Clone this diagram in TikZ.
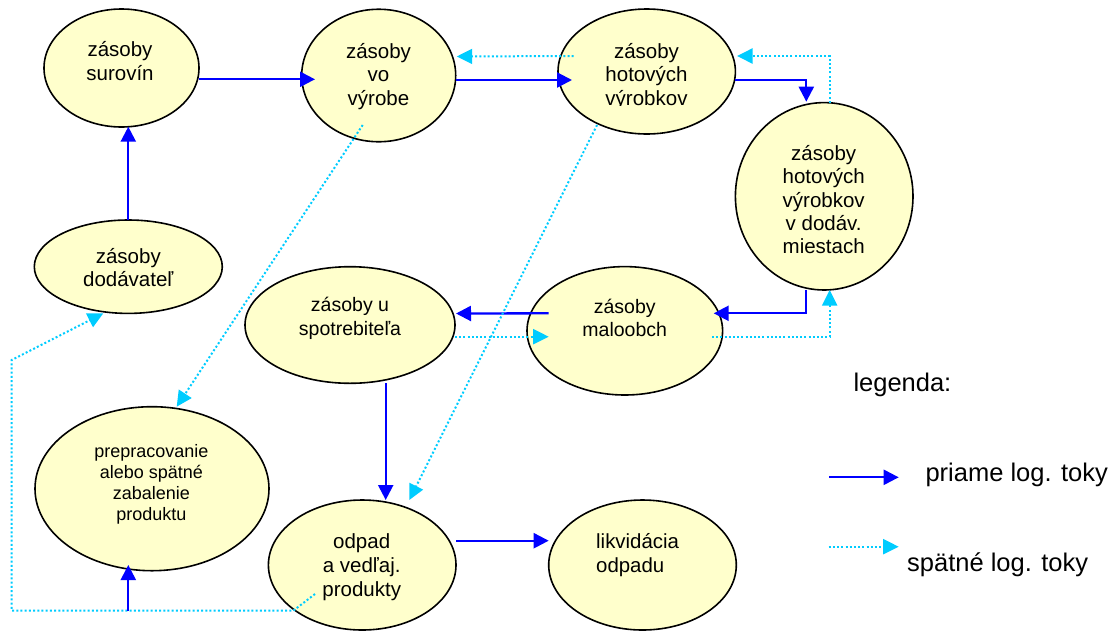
\documentclass[tikz,border=0pt]{standalone}
\usepackage{fontspec}
\setmainfont{Liberation Sans}
\usetikzlibrary{shapes.geometric,arrows.meta,calc}
\definecolor{fillY}{HTML}{FFFFCC}
\definecolor{flowB}{HTML}{0000FF}
\definecolor{flowC}{HTML}{00CCFF}
\newcommand\ts{\rule{0pt}{22pt}}
\newcommand\fixskip{\lineskiplimit -50pt\relax}
\newcommand\fsz[2]{\fontsize{#1}{#2}\selectfont\fixskip}
\begin{document}
\begin{tikzpicture}[x=1pt,y=-1pt,
  stock/.style={ellipse, draw=black, line width=1.6pt, fill=fillY, inner sep=0pt},
  lbl/.style={inner sep=0pt, align=center, anchor=north, font={\fsz{20.5}{23.4}}},
  legtxt/.style={inner sep=0pt, anchor=base west, font={\fsz{25.5}{30}}},
  fwd/.style={draw=flowB, line width=2.3pt, -{Triangle[length=15pt,width=15pt]}},
  bwd/.style={draw=flowC, line width=2pt, dash pattern=on 2pt off 2.2pt,
              -{Triangle[length=15.5pt,width=15pt]}},
]
\useasboundingbox (0,0) rectangle (1118,630);

% ellipses
\node[stock, minimum width=155pt,   minimum height=118pt]   (sur) at (121.5,68)    {};
\node[stock, minimum width=154pt,   minimum height=132.5pt] (vyr) at (378.7,75.5)  {};
\node[stock, minimum width=177.4pt, minimum height=125pt]   (hot) at (646.7,71.5)  {};
\node[stock, minimum width=177.6pt, minimum height=187.4pt] (dod) at (824.2,196.3) {};
\node[stock, minimum width=188pt,   minimum height=93.4pt]  (dov) at (128.3,266.7) {};
\node[stock, minimum width=210pt,   minimum height=116.6pt] (spo) at (350,325)     {};
\node[stock, minimum width=195.6pt, minimum height=128.4pt] (mal) at (624.8,330.8) {};
\node[stock, minimum width=234pt,   minimum height=164pt]   (pre) at (152,488.7)   {};
\node[stock, minimum width=187.6pt, minimum height=130pt]   (odp) at (362.2,565)   {};
\node[stock, minimum width=187.6pt, minimum height=130pt]   (lik) at (642.5,565)   {};

% texts
\node[lbl] (tsur) at (120,34.7)   {\ts zásoby\\surovín};
\node[lbl] (tvyr) at (378.5,36.3) {\ts zásoby\\vo\\výrobe};
\begin{scope}
  \clip (550,0) rectangle (745,105);
  \node[lbl] (thot) at (646.5,36.3) {\ts zásoby\\hotových\\výrobkov};
\end{scope}
\begin{scope}
  \clip (740,100) rectangle (910,254);
  \node[lbl] (tdod) at (823.7,138) {\ts zásoby\\hotových\\výrobkov\\v dodáv.\\miestach};
\end{scope}
\node[lbl] (tdov) at (128.3,241.3) {\ts zásoby\\dodávateľ};
\node[lbl, font={\fsz{19.5}{23.3}}] (tspo) at (350,289.7) {\ts zásoby u\\spotrebiteľa};
\node[lbl, font={\fsz{19.5}{22.7}}] (tmal) at (624.7,291.3) {\ts zásoby\\maloobch};
\node[lbl, font={\fsz{18}{20.9}}] (tpre) at (151.3,435.3) {\ts prepracovanie\\alebo spätné\\zabalenie\\produktu};
\node[lbl, font={\fsz{20.5}{24}}] (todp) at (361.7,526.3) {\ts odpad\\a vedľaj.\\produkty};
\node[lbl, anchor=north west, align=left, font={\fsz{20.4}{24.4}}] (tlik) at (596,526.3) {\ts likvidácia\\odpadu};

% forward flows
\draw[fwd] ($(sur)+(77.5,11.3)$) -- ($(vyr)+(-63.7,3.8)$);
\draw[fwd] ($(vyr)+(77,4.5)$) -- ($(hot)+(-74.7,8.5)$);
\draw[fwd] ($(hot)+(88.7,8.5)$) -| ($(dod)+(-17.9,-94.6)$);
\draw[fwd] ($(dod)+(-17.9,93.7)$) |- ($(mal)+(88.9,-17.5)$);
\draw[fwd] ($(mal)+(-76.1,-17.5)$) -- ($(spo)+(106,-11.5)$);
\draw[fwd] ($(spo)+(35.7,58.3)$) -- ($(odp)+(23.5,-65)$);
\draw[fwd] ($(odp)+(93.8,-24.3)$) -- ($(lik)+(-93.8,-24.3)$);
\draw[fwd] ($(dov)+(0,-46.7)$) -- ($(sur)+(6.8,58.7)$);

% backward flows
\draw[bwd] ($(hot)+(-73,-15.5)$) -- ($(vyr)+(78,-19)$);
\draw[bwd] ($(dod)+(5.5,-93.6)$) |- ($(hot)+(90.3,-15.5)$);
\draw[bwd] ($(mal)+(87.2,5.9)$) -| ($(dod)+(5.5,93.7)$);
\draw[bwd] ($(spo)+(105,11.7)$) -- ($(mal)+(-76.1,5.9)$);
\draw[bwd] ($(vyr)+(-16,49.5)$) -- ($(pre)+(24.7,-82)$);
\draw[bwd] ($(hot)+(-49.7,53.5)$) -- ($(odp)+(47.1,-65)$);
\coordinate (c1) at (293.3,610.7);
\coordinate (c2) at (11.7,610.7);
\coordinate (c3) at (11.7,360);
\draw[bwd] ($(odp)+(-47.2,29)$) -- (c1) -- (c2) -- (c3) -- ($(dov)+(-25,46.6)$);
\coordinate (pin) at (128.3,610.7);
\draw[fwd] (pin) -- ($(pre)+(-23.7,76.3)$);

% legend
\node[legtxt] (leg) at (853.3,391.7) {legenda:};
\node[legtxt] (lp) at (925.3,481) {priame log. toky};
\node[legtxt] (ls) at (907,571) {spätné log. toky};
\coordinate (lpa) at (829.3,477.3);
\coordinate (lpb) at (898.7,477.3);
\coordinate (lsa) at (828.7,546.7);
\coordinate (lsb) at (898.7,546.7);
\draw[fwd] (lpa) -- (lpb);
\draw[bwd] (lsa) -- (lsb);
\end{tikzpicture}
\end{document}
